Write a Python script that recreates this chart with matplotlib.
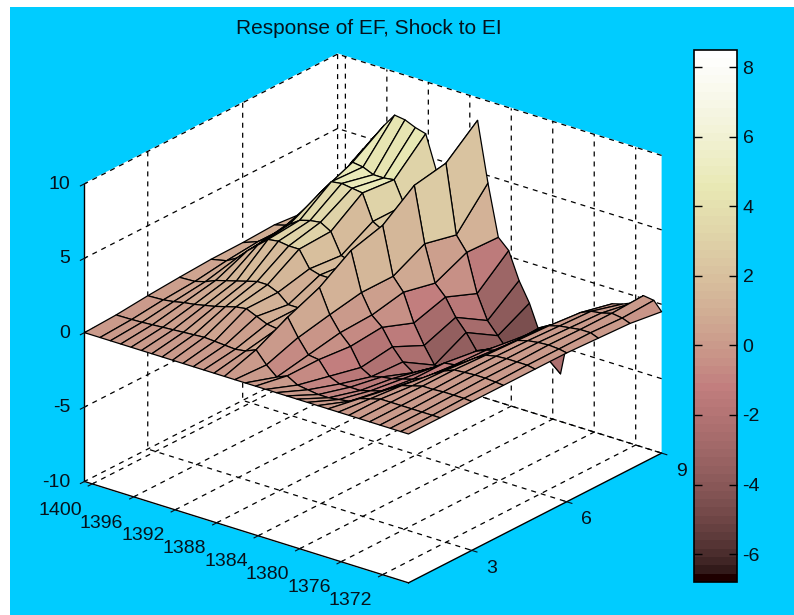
import matplotlib
matplotlib.use("Agg")
import matplotlib.pyplot as plt
import numpy as np
from matplotlib.cm import ScalarMappable
from matplotlib.colors import Normalize

plt.rcParams['font.family'] = ['Liberation Sans', 'DejaVu Sans']
plt.rcParams['grid.color'] = 'black'
plt.rcParams['grid.linestyle'] = (0, (4, 4))
plt.rcParams['grid.linewidth'] = 0.9
plt.rcParams['axes.linewidth'] = 1.0
plt.rcParams['axes.unicode_minus'] = False

# Годы (положения линий сетки по оси x)
years = [1400.75] + [1399.25 - k for k in range(30)] + [1369.5]
horizons = [1, 2, 3, 4, 5, 6, 7, 8, 9]

# Значения отклика: строка = год, столбец = горизонт
response = [
    [0, 0.1, 0.3, 0.45, 0.57, 0.6, 0.7, 0.5, 1.5],
    [0, 0.12, 0.35, 0.5, 0.8, 1.0, 1.0, 1.5, 3.2],
    [0, 0.15, 0.45, 0.7, 1.2, 1.5, 1.9, 2.7, 4.2],
    [0, 0.2, 0.6, 1.0, 1.9, 2.1, 2.9, 3.7, 5.2],
    [0, 0.25, 0.7, 1.2, 2.5, 2.8, 3.9, 4.8, 6.2],
    [0, 0.3, 0.85, 1.4, 3.1, 3.3, 4.8, 4.7, 7.1],
    [0, 0.35, 1.0, 1.6, 3.2, 3.5, 4.9, 4.4, 7.0],
    [0, 0.4, 1.2, 1.8, 3.1, 3.6, 4.8, 4.4, 6.7],
    [0, 0.45, 1.4, 1.8, 3.1, 3.2, 4.7, 4.5, 6.5],
    [0, 0.4, 1.5, 1.5, 2.0, 1.8, 3.0, 3.0, 4.3],
    [0, 0.35, 1.2, 0.9, 1.8, 1.6, 2.6, 2.5, 2.8],
    [0, 0.3, 0.9, 0.9, 1.8, 1.6, 2.6, 3.0, 3.0],
    [0, 0.4, 0.8, 1.4, 2.4, 2.8, 4.0, 4.5, 5.0],
    [0, 0.7, 1.8, 2.7, 4.1, 4.7, 6.3, 6.7, 8.49],
    [0, -0.1, 0.65, 1.1, 1.5, 1.5, 2.6, 2.1, 4.5],
    [0, -0.7, -0.3, 0.1, 0.2, 0.65, 0.17, 1.15, 1.07],
    [0, -0.4, -0.4, -0.6, -0.4, -1.2, -0.55, -1.4, 0.4],
    [0, -0.8, -1.3, -1.8, -1.5, -2.5, -1.7, -3.0, -1.4],
    [0, -0.9, -1.6, -2.2, -2.3, -3.6, -2.5, -3.8, -2.7],
    [0, -1.0, -1.6, -2.0, -2.8, -3.6, -3.5, -4.6, -4.5],
    [0, -1.0, -1.6, -1.9, -2.4, -3.0, -3.2, -4.0, -5.5],
    [0, -0.9, -1.4, -1.7, -2.0, -2.4, -2.8, -3.2, -6.8],
    [0, -0.8, -1.2, -1.5, -1.5, -1.8, -2.5, -2.4, -3.2],
    [0, -0.4, -0.8, -1.2, -1.4, -1.5, -1.8, -2.0, -2.8],
    [0, -0.2, -0.4, -0.7, -1.0, -1.3, -1.5, -1.8, -2.4],
    [0, 0, -0.2, -0.3, -0.5, -0.7, -0.8, -1.1, -1.6],
    [0, 0, 0, 0, -0.1, -0.2, -0.3, -0.5, -1.0],
    [0, 0, 0, 0.05, 0.05, 0, -0.1, -0.2, -0.8],
    [0, 0, 0.05, 0.1, 0.1, 0.1, 0, -0.1, -0.5],
    [0, 0, 0.05, 0.1, 0.1, 0.15, 0.1, 0.1, 0.2],
    [0, 0, 0.05, 0.05, 0.1, 0.1, 0.1, 0, 0.1],
    [0, 0, 0, 0, 0, 0, -0.1, -0.2, -0.5],
]

year_ticks = [1400, 1396, 1392, 1388, 1384, 1380, 1376, 1372]
horizon_ticks = [3, 6, 9]
z_ticks = [-10, -5, 0, 5, 10]
color_ticks = [-6, -4, -2, 0, 2, 4, 6, 8]
z_min, z_max = -6.8, 8.49

title = "Response of EF, Shock to EI"
bg = '#00CCFF'
ink = '#06121c'

fig = plt.figure(figsize=(7.94, 6.15), dpi=100, facecolor='white')
# Голубой фон начинается с небольшим белым отступом сверху и слева
fig.add_artist(plt.Rectangle((10 / 794, 0), 784 / 794, 608 / 615,
                             transform=fig.transFigure, facecolor=bg,
                             edgecolor='none', zorder=-1))

# Трёхмерные оси: положение подобрано так, чтобы куб совпал с оригиналом
ax = fig.add_axes([41 / 794, -35.5 / 615, 646.6 / 794, 646.6 / 615],
                  projection='3d', proj_type='ortho', facecolor='none')
ax.view_init(elev=23.6, azim=-52)
ax.set_box_aspect((1, 1, 0.79))

# Годы по возрастанию: цвет грани берётся от вершины с меньшим годом
X, Y = np.meshgrid(np.array(years)[::-1], horizons, indexing='ij')
Z = np.array(response)[::-1]
cmap = plt.get_cmap('pink', 64)
norm = Normalize(z_min, z_max)
ax.plot_surface(X, Y, Z, rstride=1, cstride=1, facecolors=cmap(norm(Z)),
                edgecolor='black', linewidth=0.9, shade=False)

ax.set_xlim(1400.75, 1369.5)
ax.set_ylim(1, 9)
ax.set_zlim(-10, 10)
ax.set_xticks(year_ticks)
ax.set_yticks(horizon_ticks)
ax.set_zticks(z_ticks)
ax.tick_params(labelsize=14, colors=ink, pad=2)
ax.tick_params(axis='y', pad=3)
ax.tick_params(axis='z', pad=-2)

for axis in (ax.xaxis, ax.yaxis, ax.zaxis):
    axis.set_pane_color('white')
    axis._axinfo['tick']['color'] = 'black'
    axis.line.set_color('black')
    axis.pane.set_edgecolor('white')
ax.zaxis.set_ticks_position('lower')

for label in ax.get_xticklabels():
    label.set_ha('right')
for label in ax.get_yticklabels():
    label.set_ha('left')
    label.set_va('center')
for label in ax.get_zticklabels():
    label.set_ha('right')
    label.set_va('center')

fig.text(369 / 794, 1 - 28 / 615, title, ha='center', va='center',
         fontsize=15, color=ink)

# Цветовая шкала
cax = fig.add_axes([694 / 794, 1 - 582 / 615, 43 / 794, 532 / 615])
cbar = fig.colorbar(ScalarMappable(norm=norm, cmap=cmap), cax=cax, ticks=color_ticks)
cax.tick_params(direction='in', left=True, right=True, length=6, width=1,
                labelsize=14, labelcolor=ink, pad=4)
cbar.outline.set_linewidth(1.2)

fig.savefig('out.png', dpi=100)
